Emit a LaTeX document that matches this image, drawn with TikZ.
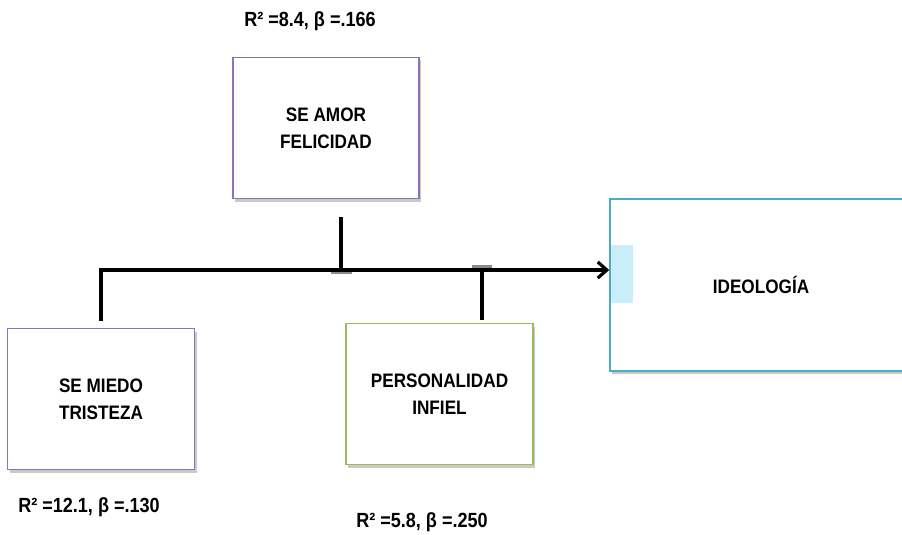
\documentclass[tikz,border=0pt]{standalone}
\usepackage{fontspec}
\setmainfont{Liberation Sans}[FakeStretch=0.88]
\usetikzlibrary{arrows.meta,shadows}
\definecolor{boxpurple}{HTML}{8E72B8}
\definecolor{boxgreen}{HTML}{9BBB59}
\definecolor{boxblue}{HTML}{4BACC6}
\definecolor{tabblue}{HTML}{C9EEFA}
\begin{document}
\begin{tikzpicture}[x=1pt,y=-1pt,
  box/.style={draw, line width=1.6pt, fill=white, inner sep=0pt, align=center,
    font=\bfseries\fontsize{19.5}{27}\selectfont,
    drop shadow={shadow xshift=2pt,shadow yshift=-3pt,opacity=0.35,fill=black!60}},
  stat/.style={font=\bfseries\fontsize{20.5}{22}\selectfont, inner sep=0pt},
  conn/.style={line width=3.2pt, black, line join=miter},
  junc/.style={fill=black!45}
]
\useasboundingbox (0,0) rectangle (902,535);
\fill[white] (0,0) rectangle (902,535);

% boxes
\node[box, draw=boxpurple, minimum width=186pt, minimum height=141pt] (amor) at (326,128) {SE AMOR\\FELICIDAD};
\node[box, draw=boxpurple, minimum width=187pt, minimum height=141pt] (miedo) at (101,399) {SE MIEDO\\TRISTEZA};
\node[box, draw=boxgreen, minimum width=187pt, minimum height=141pt] (pers) at (439.5,394) {PERSONALIDAD\\INFIEL};
\node[box, draw=boxblue, minimum width=302pt, minimum height=172pt] (ideo) at (761,285) {IDEOLOGÍA};
\fill[tabblue] (611,245) rectangle (633,303);

% statistics labels
\node[stat] (samor) at (310,21) {R² =8.4, β =.166};
\node[stat] (smiedo) at (89,507) {R² =12.1, β =.130};
\node[stat] (spers) at (422,522) {R² =5.8, β =.250};

% connectors
\coordinate (a1) at (341,217);
\coordinate (a2) at (341,270);
\coordinate (m1) at (101,270);
\coordinate (m2) at (101,321);
\coordinate (p1) at (482,270);
\coordinate (p2) at (482,320);
\fill[junc] (331,270) rectangle (352,274);
\fill[junc] (472,265) rectangle (492,270);
\draw[conn, -{Straight Barb[length=9pt,width=16pt]}] (m2) -- (m1) -- (m1 -| ideo.west);
\draw[conn] (a1) -- (a2);
\draw[conn] (p1) -- (p2);
\end{tikzpicture}
\end{document}
